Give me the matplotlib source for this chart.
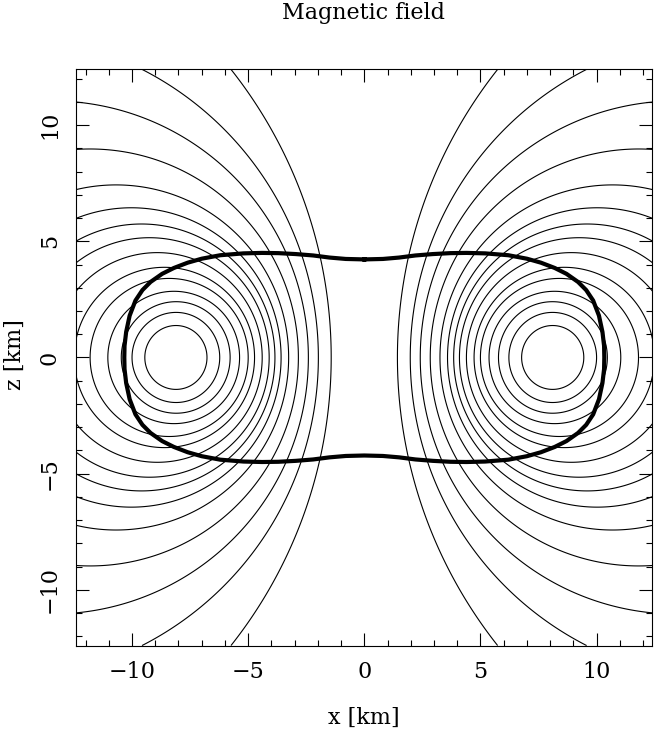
import numpy as np
import matplotlib.pyplot as plt

plt.rcParams['font.family'] = ['DejaVu Serif']

# The field lines in the picture are very nearly the flux surfaces of two
# opposite current tubes crossing the x-z plane at x = +-tube_x.
# the tube position/size and the contour levels are fitted to them below.
lv01_x, lv01_z = [1.38, 1.41, 5.74, 5.71], [0.0, 0.0, 12.37, 12.37]
lv02_x, lv02_z = [1.96, 2.02, 9.47, 9.54], [0.0, 0.0, 12.37, 12.37]
lv03_x, lv03_z = [2.53, 2.49, 12.37, 12.37], [0.0, 0.0, 11.0, 11.02]
lv04_x, lv04_z = [2.84, 2.92, 12.37, 12.37], [0.0, 0.0, 9.0, 8.93]
lv05_x, lv05_z = [3.13, 3.23, 12.37], [0.0, 0.0, 7.19]
lv06_x, lv06_z = [3.42, 3.56, 12.37, 12.37], [0.0, 0.0, 6.04, 5.90]
lv07_x, lv07_z = [3.68, 3.89, 12.37], [0.0, 0.0, 4.98]
lv08_x, lv08_z = [3.96, 4.21, 12.37], [0.0, 0.0, 4.09]
lv09_x, lv09_z = [4.28, 4.52], [0.0, 0.0]
lv10_x, lv10_z = [4.61, 4.85], [0.0, 0.0]
lv11_x, lv11_z = [4.97, 5.14, 11.85, 11.80], [0.0, 0.0, 0.0, 0.0]
lv12_x, lv12_z = [5.30, 5.50, 11.03, 11.09], [0.0, 0.0, 0.0, 0.0]
lv13_x, lv13_z = [5.68, 5.86], [0.0, 0.0]
lv14_x, lv14_z = [6.16, 6.29, 10.06, 9.95], [0.0, 0.0, 0.0, 0.0]
lv15_x, lv15_z = [6.76, 6.79, 9.41, 9.44, 8.10], [0.0, 0.0, 0.0, 0.0, 1.43]
lines_x = [lv01_x, lv02_x, lv03_x, lv04_x, lv05_x, lv06_x, lv07_x, lv08_x,
           lv09_x, lv10_x, lv11_x, lv12_x, lv13_x, lv14_x, lv15_x]
lines_z = [lv01_z, lv02_z, lv03_z, lv04_z, lv05_z, lv06_z, lv07_z, lv08_z,
           lv09_z, lv10_z, lv11_z, lv12_z, lv13_z, lv14_z, lv15_z]

# stellar surface, upper right quadrant (km), mirrored for the rest
surface_x = [0.0, 0.8, 1.5, 2.2, 2.95, 3.7, 4.4, 5.2, 6.2, 7.0, 7.6,
             8.2, 8.7, 9.2, 9.55, 9.85, 10.1, 10.25, 10.32, 10.33]
surface_z = [4.22, 4.24, 4.30, 4.39, 4.45, 4.49, 4.50, 4.48, 4.40, 4.25, 4.08,
             3.85, 3.60, 3.25, 2.90, 2.45, 1.80, 1.10, 0.50, 0.0]

lim = 12.4


def tube_term(rho, rt):
    # flux of a uniform current tube: log outside, parabolic inside
    inside = 0.5 * (rho**2 / rt**2 - 1.0) + np.log(rt)
    return np.where(rho < rt, inside, np.log(np.maximum(rho, 1e-9)))


def flux(x, z, xt, rt):
    x = np.abs(x)
    return tube_term(np.hypot(x + xt, z), rt) - tube_term(np.hypot(x - xt, z), rt)


# fit tube position/radius and one level per line to the read points
px = np.concatenate([np.array(v, dtype=float) for v in lines_x])
pz = np.concatenate([np.array(v, dtype=float) for v in lines_z])
pl = np.concatenate([[i] * len(v) for i, v in enumerate(lines_x)])
nlev = len(lines_x)


def fit_levels(xt, rt):
    v = flux(px, pz, xt, rt)
    h = 1e-4
    gx = (flux(px + h, pz, xt, rt) - flux(px - h, pz, xt, rt)) / (2 * h)
    gz = (flux(px, pz + h, xt, rt) - flux(px, pz - h, xt, rt)) / (2 * h)
    w = 1.0 / (gx**2 + gz**2)
    lev = np.bincount(pl, w * v, nlev) / np.bincount(pl, w, nlev)
    cost = np.sum(w * (v - lev[pl])**2)
    return lev, cost


best = None
for xt in np.linspace(7.4, 8.0, 61):
    for rt in np.linspace(1.8, 3.2, 57):
        lev, cost = fit_levels(xt, rt)
        if best is None or cost < best[0]:
            best = (cost, xt, rt, lev)
_, tube_x, tube_r, levels = best

g = np.linspace(-lim, lim, 801)
X, Z = np.meshgrid(g, g)
psi = flux(X, Z, tube_x, tube_r)

fig = plt.figure(figsize=(6.57, 7.34), dpi=100)
ax = fig.add_axes([0.116, 0.120, 0.877, 0.786])

ax.contour(X, Z, psi, levels=np.sort(levels), colors='k', linewidths=0.8)

qx = np.array(surface_x)
qz = np.array(surface_z)
sx = np.concatenate([qx, qx[::-1], -qx, -qx[::-1]])
sz = np.concatenate([qz, -qz[::-1], -qz, qz[::-1]])
ax.plot(sx, sz, color='k', lw=3.0, solid_joinstyle='round')

ax.set_xlim(-lim, lim)
ax.set_ylim(-lim, lim)
ax.set_aspect('equal')

ax.set_xticks([-10, -5, 0, 5, 10])
ax.set_yticks([-10, -5, 0, 5, 10])
ax.set_xticks(np.arange(-12, 13, 1), minor=True)
ax.set_yticks(np.arange(-12, 13, 1), minor=True)
ax.tick_params(which='both', direction='in', top=True, right=True, width=0.8, labelsize=16)
ax.tick_params(which='major', length=9.5)
ax.tick_params(which='minor', length=4.5)
ax.tick_params(axis='x', pad=11)
ax.tick_params(axis='y', pad=11)
for lab in ax.get_yticklabels():
    lab.set_rotation(90)
    lab.set_va('center')
for sp in ax.spines.values():
    sp.set_linewidth(0.8)

fig.text(364 / 657, 1 - 13 / 734, 'Magnetic field', ha='center', va='center', fontsize=16)
fig.text(364 / 657, 1 - 718 / 734, 'x [km]', ha='center', va='center', fontsize=16)
fig.text(15 / 657, 1 - 355 / 734, 'z [km]', ha='center', va='center', fontsize=16, rotation=90)

fig.savefig('out.png', dpi=100)
